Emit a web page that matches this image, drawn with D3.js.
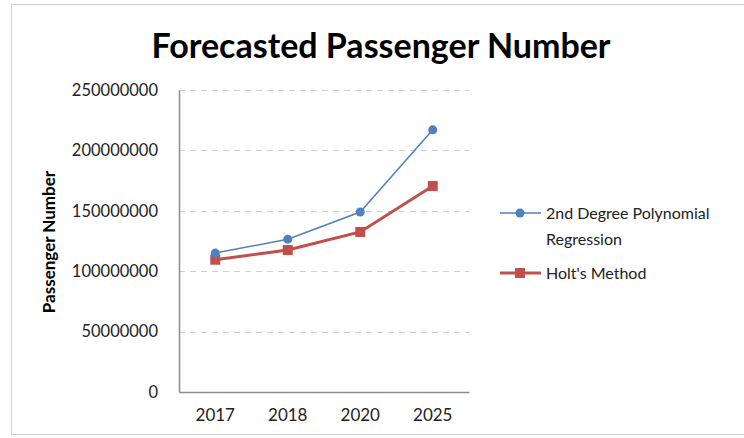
<!DOCTYPE html>
<html><head><meta charset="utf-8">
<script src="https://cdn.jsdelivr.net/npm/d3@7"></script>
<style>body{margin:0;background:#fff}svg{display:block}</style>
</head><body><svg id="c" width="744" height="438"></svg>
<script>
const categories = ["2017", "2018", "2020", "2025"];
const polyValues = [115000000, 126500000, 149000000, 217000000];
const holtValues = [109500000, 117500000, 132500000, 170500000];
const yTicks = [0, 50000000, 100000000, 150000000, 200000000, 250000000];
const seriesNames = ["2nd Degree Polynomial Regression", "Holt's Method"];

const svg = d3.select("#c");
const font = "Lato, 'Open Sans', sans-serif";
// frame
svg.append("rect").attr("x", 11.5).attr("y", 4.5).attr("width", 740).attr("height", 430)
  .attr("fill", "#fff").attr("stroke", "#d0d0d0").attr("stroke-width", 1);

const L = 179, R = 469, T = 90, B = 392;
const x = d3.scaleBand().domain(categories).range([L, R]);
const y = d3.scaleLinear().domain([0, 250000000]).range([B, T]);

// gridlines
svg.append("g").selectAll("line").data(yTicks.filter(d => d > 0)).join("line")
  .attr("x1", L).attr("x2", R).attr("y1", d => Math.round(y(d)) + 0.5).attr("y2", d => Math.round(y(d)) + 0.5)
  .attr("stroke", "#cfcfcf").attr("stroke-dasharray", "6,5");

// axes
const yAxis = svg.append("g").attr("transform", `translate(${L},0)`)
  .call(d3.axisLeft(y).tickValues(yTicks).tickSize(0).tickPadding(21).tickFormat(d3.format("d")));
yAxis.select(".domain").attr("stroke", "#8c8c8c").attr("stroke-width", 1.5);
yAxis.selectAll("text").attr("font-family", font).attr("font-size", 16.5).attr("fill", "#222");

const xAxis = svg.append("g").attr("transform", `translate(0,${B})`)
  .call(d3.axisBottom(x).tickSize(0).tickPadding(17));
xAxis.select(".domain").attr("stroke", "#8c8c8c").attr("stroke-width", 1.5);
xAxis.selectAll("text").attr("font-family", font).attr("font-size", 17).attr("fill", "#222");

// title
svg.append("text").attr("x", 381).attr("y", 58).attr("text-anchor", "middle")
  .attr("font-family", font).attr("font-weight", "bold").attr("font-size", 34).attr("fill", "#000")
  .text("Forecasted Passenger Number");

// y title
svg.append("text").attr("transform", "translate(55,242) rotate(-90)").attr("text-anchor", "middle")
  .attr("font-family", font).attr("font-weight", "bold").attr("font-size", 17).attr("fill", "#000")
  .text("Passenger Number");

const cx = d => x(d) + x.bandwidth() / 2;
const line = d3.line().x(d => cx(d[0])).y(d => y(d[1]));
const blue = "#4F81BD", red = "#C0504D";

svg.append("path").datum(categories.map((c, i) => [c, holtValues[i]])).attr("d", line)
  .attr("fill", "none").attr("stroke", red).attr("stroke-width", 3);
svg.append("path").datum(categories.map((c, i) => [c, polyValues[i]])).attr("d", line)
  .attr("fill", "none").attr("stroke", blue).attr("stroke-width", 1.5);

svg.append("g").selectAll("rect").data(categories.map((c, i) => [c, holtValues[i]])).join("rect")
  .attr("x", d => cx(d[0]) - 5).attr("y", d => y(d[1]) - 5).attr("width", 10).attr("height", 10).attr("fill", red);
svg.append("g").selectAll("circle").data(categories.map((c, i) => [c, polyValues[i]])).join("circle")
  .attr("cx", d => cx(d[0])).attr("cy", d => y(d[1])).attr("r", 4.5).attr("fill", blue);

// legend
const lg = svg.append("g");
lg.append("line").attr("x1", 500).attr("x2", 541).attr("y1", 213).attr("y2", 213).attr("stroke", blue).attr("stroke-width", 1.5);
lg.append("circle").attr("cx", 520).attr("cy", 213).attr("r", 4.5).attr("fill", blue);
lg.append("text").attr("x", 546).attr("y", 219).attr("font-family", font).attr("font-size", 16).attr("fill", "#222")
  .text("2nd Degree Polynomial");
lg.append("text").attr("x", 546).attr("y", 245).attr("font-family", font).attr("font-size", 16).attr("fill", "#222")
  .text("Regression");
lg.append("line").attr("x1", 500).attr("x2", 541).attr("y1", 273).attr("y2", 273).attr("stroke", red).attr("stroke-width", 3);
lg.append("rect").attr("x", 515).attr("y", 268).attr("width", 10).attr("height", 10).attr("fill", red);
lg.append("text").attr("x", 546).attr("y", 279).attr("font-family", font).attr("font-size", 16).attr("fill", "#222")
  .text("Holt's Method");
</script></body></html>
